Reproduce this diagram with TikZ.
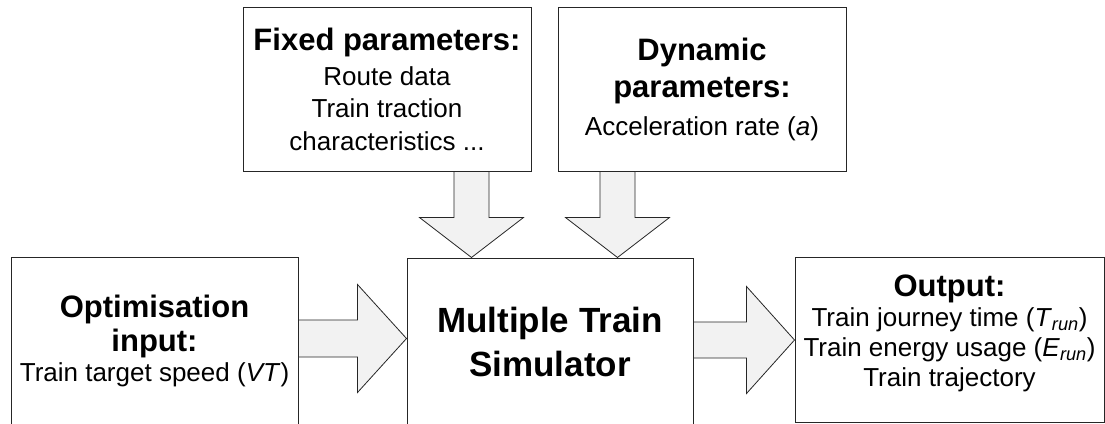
\documentclass[tikz,border=0pt]{standalone}
\usepackage{fontspec}
\setmainfont{Liberation Sans}
\usetikzlibrary{positioning,calc}

\begin{document}
\begin{tikzpicture}[
    x=1pt, y=-1pt,
    font=\fontsize{26}{30}\selectfont,
    box/.style={draw=black!85, line width=1pt, fill=white, inner sep=0pt, align=center},
    fat/.style={draw=black!85, line width=0.8pt, fill=gray!10, line join=miter}
]
\useasboundingbox (0,0) rectangle (1105,423);

% boxes
\node[box, minimum width=288pt, minimum height=164pt] (fixed) at (387,89)
  {{\fontsize{31}{33}\selectfont\bfseries Fixed parameters:}\\[5pt]Route data\\[2pt]Train traction\\[3pt]characteristics ...};
\node[box, minimum width=288pt, minimum height=164pt] (dyn) at (702,89)
  {{\fontsize{31}{33}\selectfont\bfseries Dynamic}\\[7pt]{\fontsize{31}{33}\selectfont\bfseries parameters:}\\[8pt]Acceleration rate (\textit{a})};
\node[box, minimum width=287pt, minimum height=168pt] (optin) at (154.5,341)
  {{\fontsize{31}{33}\selectfont\bfseries Optimisation}\\[4pt]{\fontsize{31}{33}\selectfont\bfseries input:}\\Train target speed (\textit{VT})};
\node[box, minimum width=286pt, minimum height=168pt] (sim) at (550,342)
  {{\fontsize{35}{40}\selectfont\bfseries Multiple Train}\\[10pt]{\fontsize{35}{40}\selectfont\bfseries Simulator}};
\node[box, minimum width=309pt, minimum height=165pt] (out) at (949.5,339.5) {};
\node[align=center, inner sep=0pt] (outtext) at ($(out.center)+(0,-6)$)
  {{\fontsize{31}{33}\selectfont\bfseries Output:}\\Train journey time (\textit{T}\textsubscript{\textit{run}})\\Train energy usage (\textit{E}\textsubscript{\textit{run}})\\Train trajectory};

% block arrows
\coordinate (f0) at ($(fixed.south east)+(-60,0)$);
\coordinate (f1) at (f0 |- sim.north);
\draw[fat] ($(f0)+(-17.5,0)$) -- ($(f1)+(-17.5,-40)$) -- ($(f1)+(-52,-40)$) -- (f1)
  -- ($(f1)+(52,-40)$) -- ($(f1)+(17.5,-40)$) -- ($(f0)+(17.5,0)$) -- cycle;

\coordinate (d0) at ($(dyn.south west)+(60,0)$);
\coordinate (d1) at (d0 |- sim.north);
\draw[fat] ($(d0)+(-17.5,0)$) -- ($(d1)+(-17.5,-40)$) -- ($(d1)+(-52,-40)$) -- (d1)
  -- ($(d1)+(52,-40)$) -- ($(d1)+(17.5,-40)$) -- ($(d0)+(17.5,0)$) -- cycle;

\coordinate (o0) at ($(optin.east)+(0,-2.5)$);
\coordinate (o1) at (o0 -| sim.west);
\draw[fat] ($(o0)+(0,-18.5)$) -- ($(o1)+(-49,-18.5)$) -- ($(o1)+(-49,-54)$) -- (o1)
  -- ($(o1)+(-49,54)$) -- ($(o1)+(-49,18.5)$) -- ($(o0)+(0,18.5)$) -- cycle;

\coordinate (s0) at ($(sim.east)+(0,-2)$);
\coordinate (s1) at (s0 -| out.west);
\draw[fat] ($(s0)+(0,-18)$) -- ($(s1)+(-48,-18)$) -- ($(s1)+(-48,-53.5)$) -- (s1)
  -- ($(s1)+(-48,53.5)$) -- ($(s1)+(-48,18)$) -- ($(s0)+(0,18)$) -- cycle;

\end{tikzpicture}
\end{document}
